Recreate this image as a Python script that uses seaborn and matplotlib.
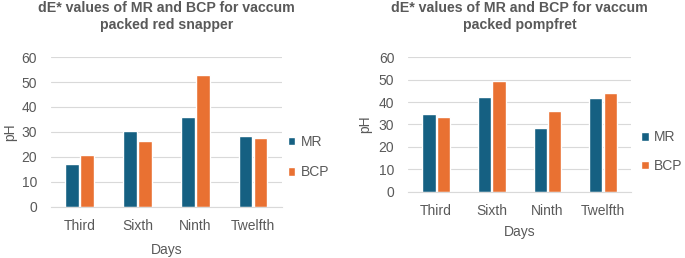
import pandas as pd
import matplotlib.pyplot as plt
import seaborn as sns

days = ['Third', 'Sixth', 'Ninth', 'Twelfth']
snapper_mr = [17.3, 30.5, 36.0, 28.3]
snapper_bcp = [20.8, 26.4, 52.7, 27.5]
pomfret_mr = [34.8, 42.3, 28.4, 41.7]
pomfret_bcp = [33.2, 49.6, 35.9, 44.2]

titles = ['dE* values of MR and BCP for vaccum\npacked red snapper',
          'dE* values of MR and BCP for vaccum\npacked pompfret']

sns.set_style('white')
plt.rcParams['font.family'] = ['Liberation Sans', 'DejaVu Sans']
grey = '#595959'
palette = {'MR': '#156082', 'BCP': '#E97132'}


def long_df(mr, bcp):
    return pd.concat([
        pd.DataFrame({'Days': days, 'value': mr, 'series': 'MR'}),
        pd.DataFrame({'Days': days, 'value': bcp, 'series': 'BCP'}),
    ], ignore_index=True)


fig = plt.figure(figsize=(6.85, 2.58), dpi=100)
boxes = [[0.0745, 0.198, 0.337, 0.581], [0.596, 0.257, 0.325, 0.521]]
legpos = [(0.420, 0.391), (0.936, 0.412)]
data = [long_df(snapper_mr, snapper_bcp), long_df(pomfret_mr, pomfret_bcp)]
xpads = [7, 5]
ypads = [3, 5]
legspace = [1.2, 1.05]

for i in range(2):
    ax = fig.add_axes(boxes[i])
    sns.barplot(data=data[i], x='Days', y='value', hue='series', palette=palette,
                width=0.52, gap=0.08, ax=ax, saturation=1)
    ax.set_ylim(0, 60)
    ax.set_xlim(-0.5, 3.5)
    ax.set_yticks(range(0, 61, 10))
    ax.yaxis.grid(True, color='#D9D9D9', linewidth=0.8)
    ax.set_axisbelow(True)
    for s in ['top', 'right', 'left']:
        ax.spines[s].set_visible(False)
    ax.spines['bottom'].set_color('#D9D9D9')
    ax.tick_params(length=0, labelsize=10, colors=grey)
    ax.tick_params(axis='y', pad=10)
    ax.tick_params(axis='x', pad=9)
    ax.set_xlabel('Days', fontsize=10, color=grey, labelpad=xpads[i])
    ax.set_ylabel('pH', fontsize=10, color=grey, labelpad=ypads[i])
    ax.set_title(titles[i], fontsize=10.2, fontweight='bold', color=grey, pad=20,
                 linespacing=1.3)
    ax.legend(loc='center left', bbox_to_anchor=legpos[i], bbox_transform=fig.transFigure,
              frameon=False, fontsize=10, labelcolor=grey, handlelength=0.55,
              handleheight=0.55, handletextpad=0.4, labelspacing=legspace[i],
              borderpad=0, borderaxespad=0)

plt.savefig('out.png', dpi=100)
